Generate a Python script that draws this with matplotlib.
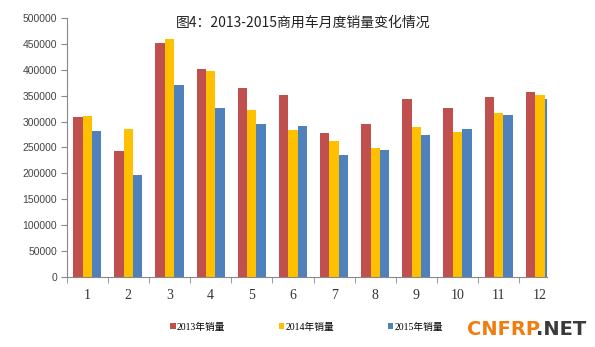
import numpy as np
import matplotlib.pyplot as plt
from matplotlib.ticker import FixedLocator

plt.rcParams['font.family'] = ['Liberation Sans', 'Noto Sans CJK SC', 'DejaVu Sans']

months = ['1', '2', '3', '4', '5', '6', '7', '8', '9', '10', '11', '12']
sales_2013 = [309000, 243000, 451000, 401000, 365000, 351000, 278000, 296000, 343000, 327000, 348000, 358000]
sales_2014 = [310000, 285000, 460000, 397000, 322000, 284000, 262000, 249000, 289000, 280000, 317000, 351000]
sales_2015 = [282000, 197000, 370000, 326000, 295000, 292000, 235000, 246000, 274000, 285000, 312000, 344000]
series_names = ['2013年销量', '2014年销量', '2015年销量']
colors = ['#C0504D', '#FFC000', '#4F81BD']

fig = plt.figure(figsize=(5.95, 3.47), dpi=100)
ax = fig.add_axes([0.112, 0.202, 0.807, 0.746])

x = np.arange(len(months))
w = 0.228
for i, (vals, name, c) in enumerate(zip([sales_2013, sales_2014, sales_2015], series_names, colors)):
    ax.bar(x + (i - 1) * w, vals, width=w, color=c, label=name, linewidth=0)

ax.set_xlim(-0.5, 11.17)
ax.set_ylim(0, 500000)
ax.set_yticks(np.arange(0, 500001, 50000))
ax.set_yticklabels([str(v) for v in range(0, 500001, 50000)], fontsize=7.5, color='#444444')

# category labels at centres, tick marks at boundaries
ax.set_xticks(x)
ax.set_xticklabels(months, fontsize=10, family=['Liberation Serif'], color='#333333')
ax.tick_params(axis='x', which='major', length=0, pad=9)
ax.xaxis.set_minor_locator(FixedLocator(np.arange(-0.5, 11.6, 1)))
ax.tick_params(axis='x', which='minor', length=4, color='#888888', direction='out')
ax.tick_params(axis='y', length=4, color='#888888', direction='out', pad=3)

for s in ['top', 'right']:
    ax.spines[s].set_visible(False)
for s in ['left', 'bottom']:
    ax.spines[s].set_color('#888888')
    ax.spines[s].set_linewidth(0.8)

fig.text(0.51, 0.935, '图4：2013-2015商用车月度销量变化情况', ha='center', va='center',
         fontsize=10, family=['Noto Sans CJK SC'], color='#222222')

fig.legend(loc='center', bbox_to_anchor=(0.515, 0.057), ncol=3, frameon=False,
           fontsize=7, handlelength=0.6, handleheight=0.6, handletextpad=0.1,
           columnspacing=5.5, prop={'family': ['Liberation Serif', 'Noto Sans CJK SC'], 'size': 7})

fig.text(0.785, 0.05, 'CNFRP', ha='left', va='center', fontsize=14, fontweight='bold',
         color='#F07D0F', family='DejaVu Sans')
fig.text(0.9, 0.05, '.NET', ha='left', va='center', fontsize=14, fontweight='bold',
         color='#3A3A3A', family='DejaVu Sans')

fig.savefig('out.png', dpi=100)
